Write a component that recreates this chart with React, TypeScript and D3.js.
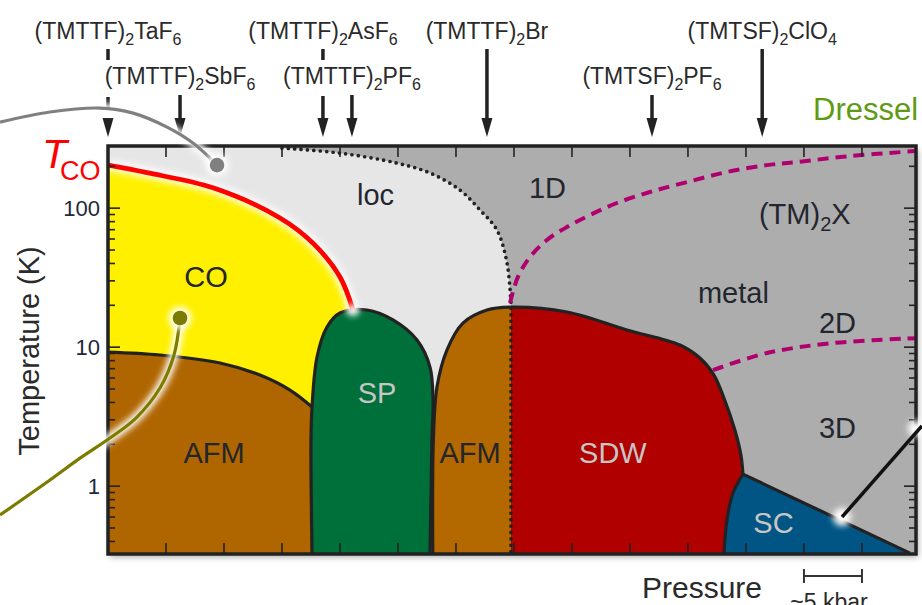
import React from 'react';
import * as d3 from 'd3';

type Pt = [number, number];

// pressure (kbar, relative scale) vs temperature (K)
const tcoLine: Pt[] = [[0, 204], [3.36, 180], [9.05, 140], [14.83, 85], [17.67, 56], [20, 32], [21.12, 18.5]];
const afmLeftTop: Pt[] = [[0, 9.22], [4.48, 8.78], [9.66, 7.69], [13.1, 6.3], [15.69, 4.91], [17.59, 3.71]];
const spDome: Pt[] = [[17.59, 0.325], [17.5, 2.15], [17.59, 3.71], [18.02, 8.49], [18.88, 13.95], [20, 17.6], [22.33, 18.5], [24.57, 15.7], [26.64, 11.25], [27.76, 7.19], [28.02, 4.16], [27.93, 2.15], [27.76, 0.325]];
const afmMidDome: Pt[] = [[28.0, 0.325], [28.05, 2.15], [28.36, 5.16], [29.22, 9.53], [30.6, 14.9], [32.67, 18.5], [34.74, 19.4]];
const sdwTop: Pt[] = [[34.74, 19.4], [39.57, 17.9], [44.74, 13.3], [49.31, 10.36], [51.03, 8.35], [52.24, 6.3], [53.1, 4.31], [54.05, 2.53], [54.57, 1.67], [54.74, 1.22]];
const scLeft: Pt[] = [[54.74, 1.22], [53.88, 0.892], [53.36, 0.57], [53.1, 0.325]];
const scTop: Pt[] = [[54.74, 1.22], [69.14, 0.33]];
const locEdge: Pt[] = [[15, 270.7], [20, 249], [24.91, 211], [27.76, 179], [30.34, 135], [32.07, 97], [33.53, 69.6], [34.4, 40.3], [34.74, 20.8]];
const crossover1D: Pt[] = [[34.66, 20.8], [35.34, 32], [36.38, 44.5], [37.84, 59], [39.57, 73.2], [41.55, 89.2], [43.88, 108.9], [46.72, 130.7], [49.91, 154], [53.36, 182], [56.81, 204], [59.4, 214.7], [63.97, 237], [69.66, 257.6]];
const crossover2D: Pt[] = [[52.16, 6.84], [56.81, 9.07], [62.5, 10.7], [69.66, 11.6]];

// leader lines from the surrounding figure
const grayLeader: Pt[] = [[-9.31, 416], [-5, 492], [-0.69, 525], [2.16, 483], [5.09, 383], [7.33, 294], [9.4, 204]];
const oliveLeader: Pt[] = [[6.21, 16.2], [5.69, 8.78], [4.48, 5.08], [2.41, 3.09], [0.17, 2.22], [-2.41, 1.59], [-5, 1.107], [-9.31, 0.62]];
const blackLeader: Pt[] = [[63.28, 0.6], [70.17, 2.71]];

const pressureTicks = d3.range(5, 66, 5);
const scaleBar: [number, number] = [60, 65];
const tempLabels = [1, 10, 100];
const tempMinor = [0.4, 0.5, 0.6, 0.7, 0.8, 0.9, 2, 3, 4, 5, 6, 7, 8, 9, 20, 30, 40, 50, 60, 70, 80, 90, 200];

const compounds = [
  { parts: ['(TMTTF)', '2', 'TaF', '6'], p: 0, row: 0, kind: 'dashed' },
  { parts: ['(TMTTF)', '2', 'SbF', '6'], p: 6.21, row: 1, kind: 'solid' },
  { parts: ['(TMTTF)', '2', 'AsF', '6'], p: 18.53, row: 0, kind: 'broken' },
  { parts: ['(TMTTF)', '2', 'PF', '6'], p: 21.03, row: 1, kind: 'solid' },
  { parts: ['(TMTTF)', '2', 'Br'], p: 32.67, row: 0, kind: 'solid' },
  { parts: ['(TMTSF)', '2', 'PF', '6'], p: 46.9, row: 1, kind: 'solid' },
  { parts: ['(TMTSF)', '2', 'ClO', '4'], p: 56.4, row: 0, kind: 'solid' },
];

const phaseLabels = [
  { text: 'loc', p: 23.06, t: 105, light: false },
  { text: '1D', p: 37.89, t: 118, light: false },
  { text: 'metal', p: 53.92, t: 20.8, light: false },
  { text: '2D', p: 62.89, t: 12.6, light: false },
  { text: '3D', p: 62.89, t: 2.22, light: false },
  { text: 'CO', p: 8.45, t: 27.1, light: false },
  { text: 'AFM', p: 9.14, t: 1.47, light: false },
  { text: 'AFM', p: 31.21, t: 1.47, light: false },
  { text: 'SP', p: 23.19, t: 3.96, light: true },
  { text: 'SDW', p: 43.53, t: 1.47, light: true },
  { text: 'SC', p: 57.37, t: 0.46, light: true },
];

const FONT = 'Liberation Sans, Arial, Helvetica, sans-serif';
const INK = '#222';

export default function App() {
  const x = d3.scaleLinear().domain([0, 69.66]).range([108, 916]);
  const y = d3.scaleLog().domain([0.325, 280]).range([554, 146]);
  const [p0, p1] = x.domain();
  const [t0, t1] = y.domain();
  const X0 = x(p0), X1 = x(p1), Y0 = y(t1), Y1 = y(t0);

  const smooth = d3.line<Pt>().x(d => x(d[0])).y(d => y(d[1])).curve(d3.curveCatmullRom.alpha(0.5));
  const straight = d3.line<Pt>().x(d => x(d[0])).y(d => y(d[1]));
  const link = (...segs: string[]) => segs.map((s, i) => (i === 0 ? s : 'L' + s.slice(1))).join('');
  const join = (...segs: string[]) => link(...segs) + 'Z';

  const locPath = join(straight([[p0, t1], [15, t1]]), smooth(locEdge), straight([[34.74, 20.8], [34.74, t0], [p0, t0]]));
  const yellowPath = join(smooth(tcoLine), straight([[21.12, 18.5], [21.12, t0], [p0, t0]]));
  const afmLeftPath = join(smooth(afmLeftTop), straight([[17.59, 3.71], [17.8, t0], [p0, t0]]));
  const spPath = smooth(spDome) + 'Z';
  const afmMidPath = join(smooth(afmMidDome), straight([[34.74, 19.4], [34.74, t0]]));
  const sdwPath = join(straight([[34.74, t0], [34.74, 19.4]]), smooth(sdwTop), smooth(scLeft));
  const scPath = join(smooth([...scLeft].reverse()), straight([...scTop, [p1, t0]]));
  const dottedPath = link(smooth(locEdge), straight([[34.74, 20.8], [34.74, t0]]));

  const subText = (parts: string[], big: number, small: number, shift: number) =>
    parts.map((s, i) =>
      i % 2 === 1 ? (
        <tspan key={i} dy={shift} fontSize={small}>{s}</tspan>
      ) : (
        <tspan key={i} dy={i === 0 ? 0 : -shift} fontSize={big}>{s}</tspan>
      )
    );

  const glow = (cx: number, cy: number, r: number, k: string) => (
    <circle key={k} cx={cx} cy={cy} r={r} fill="#fff" filter="url(#soft)" />
  );

  return (
    <svg width={922} height={605} style={{ position: 'absolute', left: 0, top: 0, background: '#fff' }} fontFamily={FONT}>
      <defs>
        <clipPath id="plot">
          <rect x={X0} y={Y0} width={X1 - X0} height={Y1 - Y0} />
        </clipPath>
        <filter id="soft" x="-50%" y="-50%" width="200%" height="200%">
          <feGaussianBlur stdDeviation="3" />
        </filter>
        <filter id="shadow" x="-5%" y="-5%" width="110%" height="110%">
          <feDropShadow dx="2" dy="3" stdDeviation="3" floodColor="#000" floodOpacity="0.35" />
        </filter>
      </defs>

      <rect x={X0} y={Y0} width={X1 - X0} height={Y1 - Y0} fill="#fff" filter="url(#shadow)" />

      <g clipPath="url(#plot)">
        <rect x={X0} y={Y0} width={X1 - X0} height={Y1 - Y0} fill="#adadad" />
        <path d={locPath} fill="#e6e6e6" />
        <path d={yellowPath} fill="#fff000" />
        <path d={afmLeftPath} fill="#b06600" />
        <path d={spPath} fill="#00703a" />
        <path d={afmMidPath} fill="#b36800" />
        <path d={sdwPath} fill="#b00000" />
        <path d={scPath} fill="#005585" />

        <g fill="none" stroke={INK} strokeWidth={3.2} strokeLinejoin="round">
          <path d={smooth(afmLeftTop)!} />
          <path d={smooth(spDome)!} />
          <path d={smooth([...afmMidDome, ...sdwTop.slice(1)])!} />
          <path d={smooth(scLeft)!} />
          <path d={straight(scTop)!} />
        </g>
        <path d={dottedPath} fill="none" stroke={INK} strokeWidth={3.7} strokeDasharray="0 6.4" strokeLinecap="round" />
        <g fill="none" stroke="#b0006e" strokeWidth={4} strokeDasharray="11 7">
          <path d={smooth(crossover1D)!} />
          <path d={smooth(crossover2D)!} />
        </g>

        <path d={smooth(tcoLine)!} fill="none" stroke="#fff" strokeWidth={11} opacity={0.85} filter="url(#soft)" />
        <path d={smooth(tcoLine)!} fill="none" stroke="#ff0000" strokeWidth={4.8} />
        {glow(x(21.12), y(18.5), 6, 'g-red')}

        {phaseLabels.map((l, i) => (
          <text key={i} x={x(l.p)} y={y(l.t)} textAnchor="middle" fontSize={29} fill={l.light ? '#c6c6c6' : '#23262e'}>
            {l.text}
          </text>
        ))}
        <text x={x(56.12)} y={y(76.9)} fill="#23262e">
          {subText(['(TM)', '2', 'X'], 29, 20, 7)}
        </text>
      </g>

      <rect x={X0} y={Y0} width={X1 - X0} height={Y1 - Y0} fill="none" stroke={INK} strokeWidth={3.5} />

      <g stroke={INK} strokeWidth={1.6}>
        {pressureTicks.map(p => (
          <g key={p}>
            <line x1={x(p)} x2={x(p)} y1={Y0} y2={Y0 + 11} />
            <line x1={x(p)} x2={x(p)} y1={Y1} y2={Y1 - 11} />
          </g>
        ))}
        {[...tempLabels, ...tempMinor].map(t => {
          const len = tempLabels.includes(t) ? 12 : 7;
          return (
            <g key={t}>
              <line x1={X0} x2={X0 + len} y1={y(t)} y2={y(t)} />
              <line x1={X1} x2={X1 - len} y1={y(t)} y2={y(t)} />
            </g>
          );
        })}
      </g>

      {tempLabels.map(t => (
        <text key={t} x={100} y={y(t) + 8} textAnchor="end" fontSize={22} fill="#22283a">{t}</text>
      ))}
      <text transform={`translate(39,351) rotate(-90)`} textAnchor="middle" fontSize={29} fill="#2a2a2a">Temperature (K)</text>
      <text x={642} y={598} fontSize={30} fill="#2a2a2a">Pressure</text>
      <g stroke="#333" strokeWidth={2}>
        <line x1={x(scaleBar[0])} x2={x(scaleBar[1])} y1={576} y2={576} />
        <line x1={x(scaleBar[0])} x2={x(scaleBar[0])} y1={569} y2={583} />
        <line x1={x(scaleBar[1])} x2={x(scaleBar[1])} y1={569} y2={583} />
      </g>
      <text x={(x(scaleBar[0]) + x(scaleBar[1])) / 2 - 4} y={610} textAnchor="middle" fontSize={23} fill="#2a2a2a">~5 kbar</text>

      <text x={42} y={168} fontSize={41} fontStyle="italic" fill="#ff0000">T</text>
      <text x={60} y={180} fontSize={27} fill="#ff0000">CO</text>

      {compounds.map((c, i) => {
        const cx = x(c.p);
        const top = c.row === 0 ? 49 : 95;
        const segs: [number, number][] =
          c.kind === 'dashed' ? [[49, 60], [97, 107]] : c.kind === 'broken' ? [[49, 60], [96, 121]] : [[top, 121]];
        return (
          <g key={i}>
            <g stroke={INK} strokeWidth={3.5}>
              {segs.map((s, j) => (
                <line key={j} x1={cx} x2={cx} y1={s[0]} y2={s[1]} />
              ))}
            </g>
            <polygon points={`${cx - 5.5},118 ${cx + 5.5},118 ${cx},137`} fill={INK} />
            <text x={cx} y={c.row === 0 ? 39 : 84} textAnchor="middle" fill="#2a2a2a">
              {subText(c.parts, 23, 16, 6)}
            </text>
          </g>
        );
      })}

      <text x={813} y={120} fontSize={31} fill="#5f9a14">Dressel</text>

      {glow(x(69.66), y(2.6), 8, 'g-frame')}
      <g fill="none">
        <path d={smooth(grayLeader)!} stroke="#fff" strokeWidth={9} filter="url(#soft)" />
        <path d={smooth(oliveLeader)!} stroke="#fff" strokeWidth={9} filter="url(#soft)" />
        <path d={smooth(grayLeader)!} stroke="#808080" strokeWidth={3.2} />
        <path d={smooth(oliveLeader)!} stroke="#7b7b00" strokeWidth={3.2} />
      </g>
      {glow(x(9.4), y(204), 11, 'g-gray')}
      {glow(x(6.21), y(16.2), 11, 'g-olive')}
      {glow(x(63.28), y(0.6), 9, 'g-sc')}
      <circle cx={x(9.4)} cy={y(204)} r={7.3} fill="#808080" />
      <circle cx={x(6.21)} cy={y(16.2)} r={7.3} fill="#7b7b00" />
      <path d={straight(blackLeader)!} stroke="#111" strokeWidth={3.5} fill="none" />
    </svg>
  );
}
